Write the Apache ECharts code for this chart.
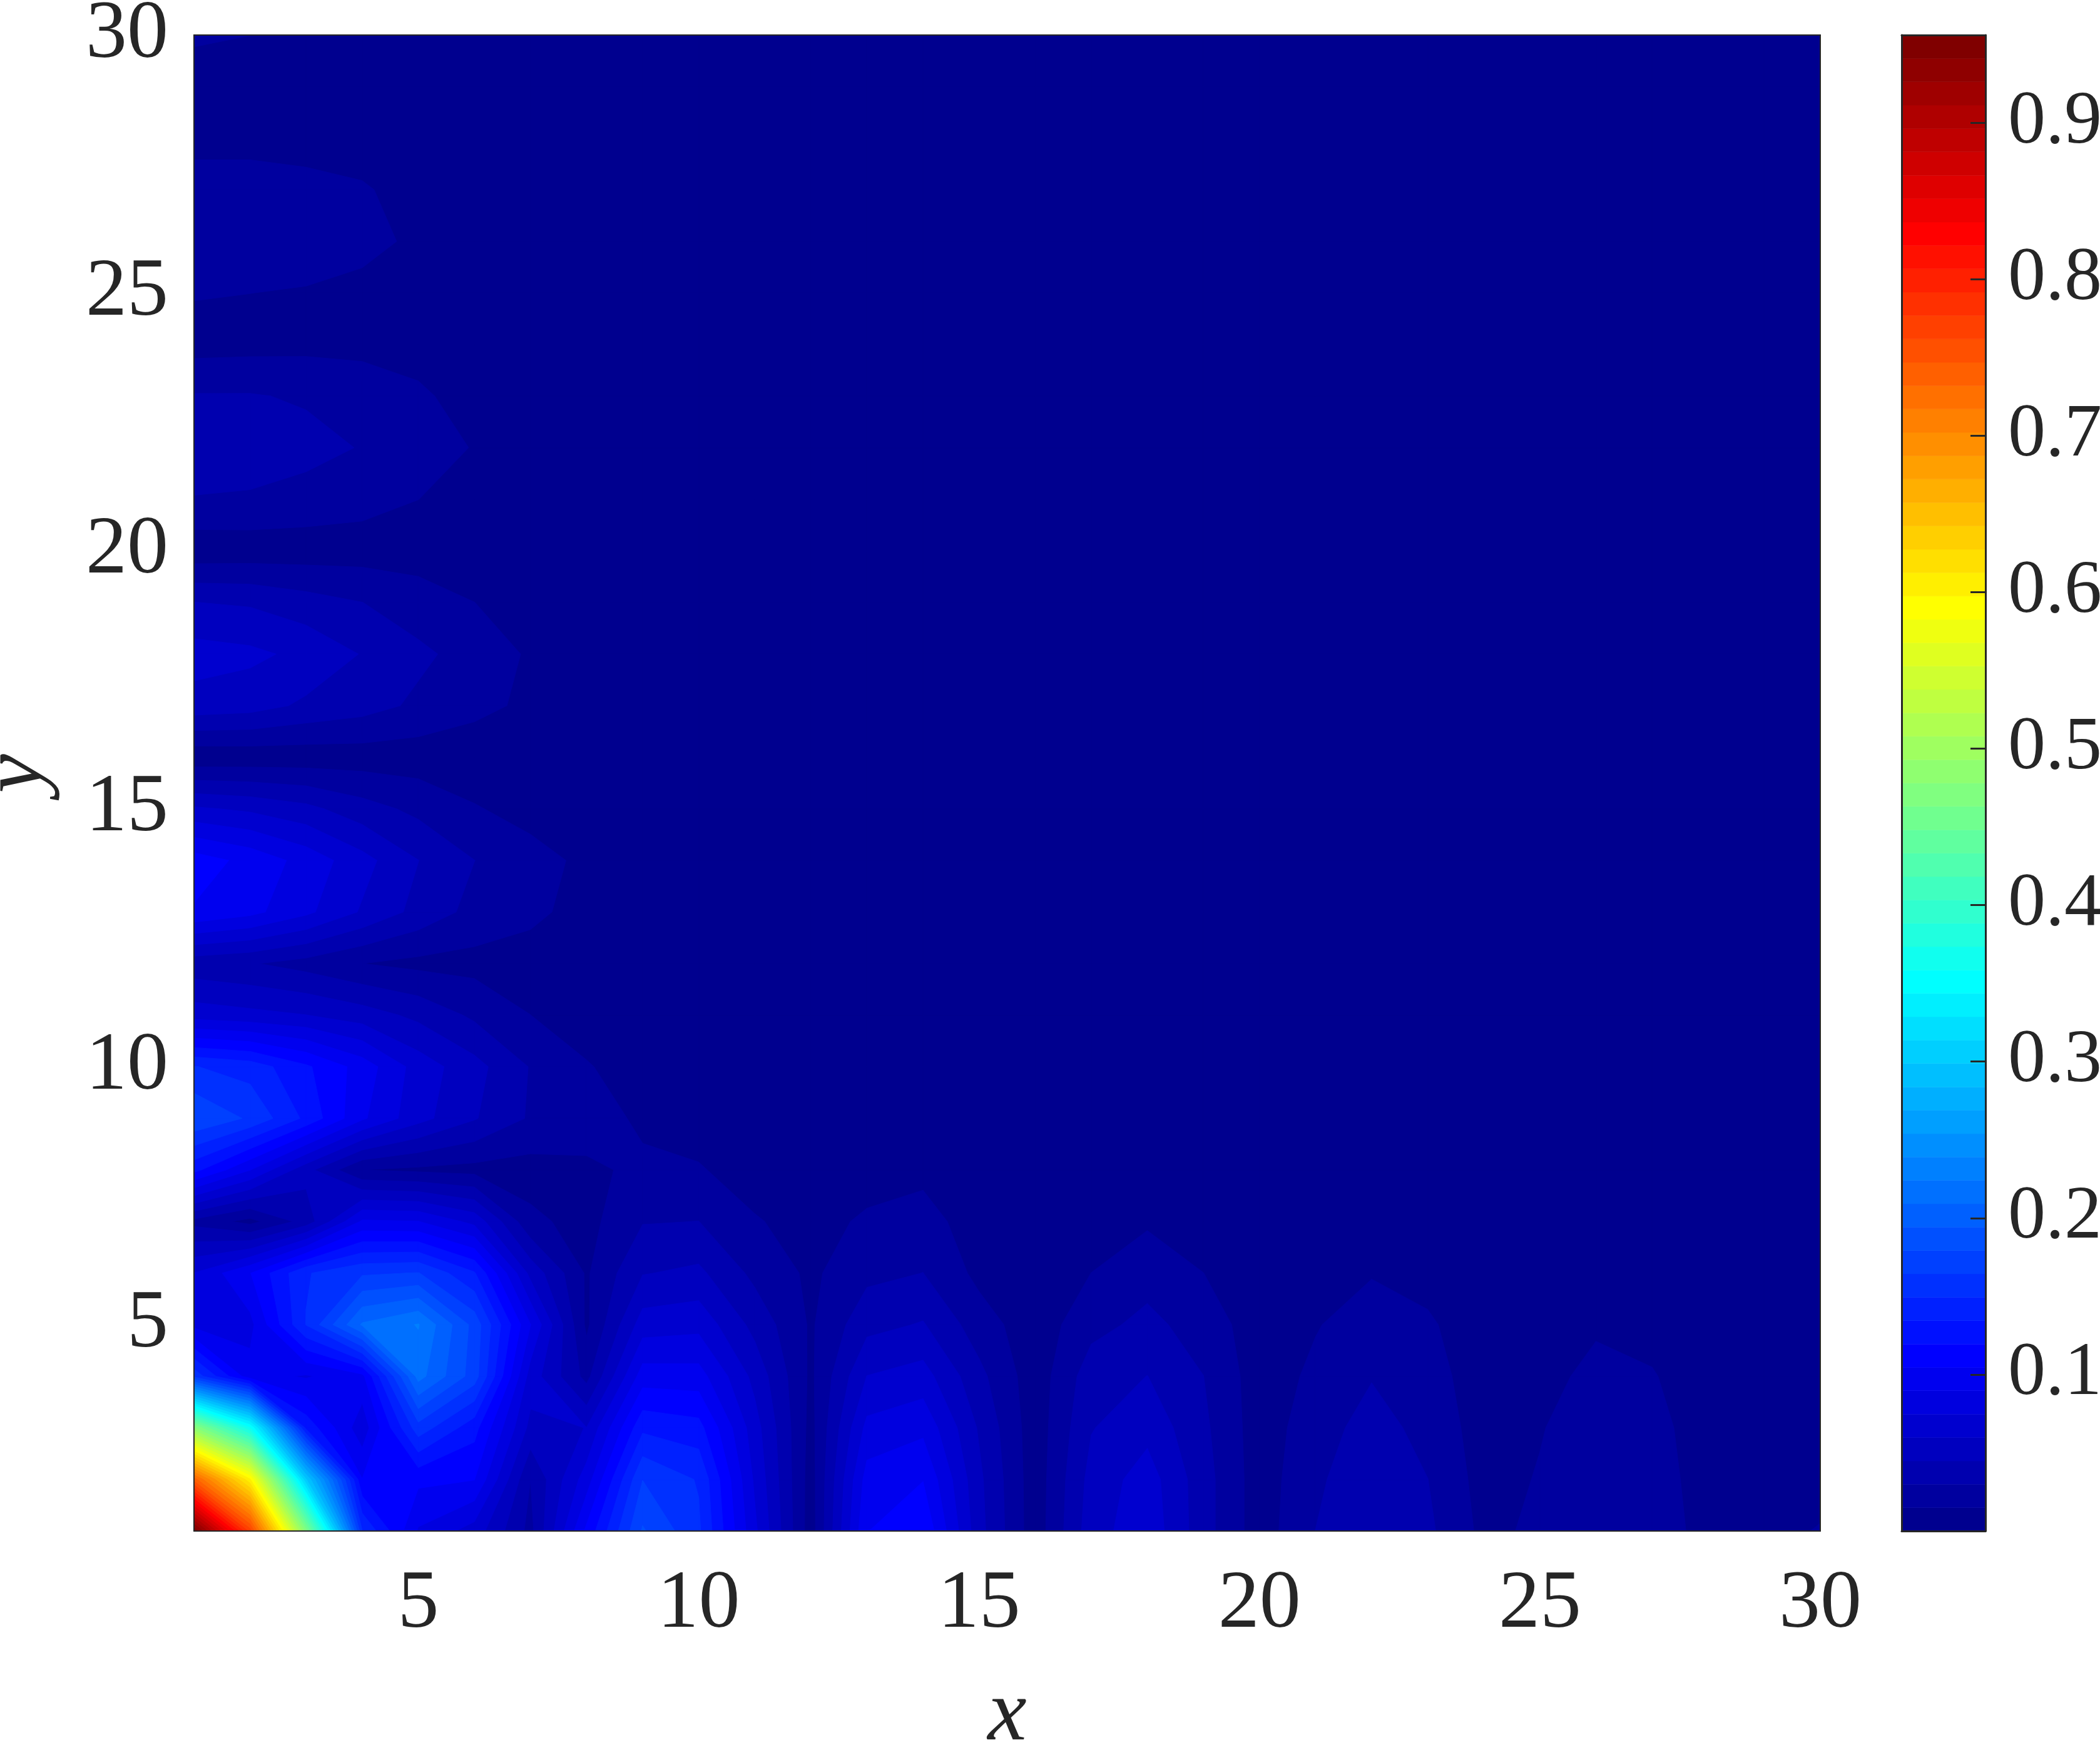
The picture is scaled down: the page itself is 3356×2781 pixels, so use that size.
<!DOCTYPE html>
<html>
<head>
<meta charset="utf-8">
<style>html,body{margin:0;padding:0;background:#fff;overflow:hidden}#c{width:3356px;height:2781px}</style>
<script src="https://cdn.jsdelivr.net/npm/echarts@6/dist/echarts.min.js"></script>
</head>
<body>
<div id="c"></div>
<script>
// Field values in thousandths, one list per y = 1..30, each list x = 1..30
const zY01=[956,770,470,150,88,68,25,108,181,152,78,7,104,118,50,6,53,70,36,7,30,44,33,11,18,27,24,9,10,16];
const zY02=[740,600,300,105,108,105,30,82,164,148,72,8,96,104,48,6,50,67,36,7,27,41,30,9,16,26,22,8,7,9];
const zY03=[480,360,130,80,158,125,55,60,131,125,66,10,79,86,43,6,44,55,33,7,23,36,25,8,14,23,20,7,5,5];
const zY04=[160,95,88,100,215,172,68,25,97,96,55,12,60,66,34,6,38,45,30,7,18,29,21,7,10,19,16,6,5,5];
const zY05=[85,85,150,211,225,174,90,12,67,70,40,13,40,46,22,6,25,34,23,7,14,22,17,6,6,13,10,5,5,5];
const zY06=[75,104,148,162,165,136,55,13,44,48,26,12,26,30,11,6,15,24,15,6,9,14,10,5,5,8,6,5,5,5];
const zY07=[25,10,36,92,90,70,18,10,29,30,16,10,17,21,7,5,9,13,8,5,5,8,5,5,5,5,5,5,5,5];
const zY08=[124,90,50,15,12,10,9,13,17,16,9,7,9,11,6,5,6,8,5,5,5,5,5,5,5,5,5,5,5,5];
const zY09=[178,162,131,92,65,46,28,20,13,9,6,5,6,6,5,5,5,5,5,5,5,5,5,5,5,5,5,5,5,5];
const zY10=[150,143,122,98,68,50,29,16,8,5,5,5,5,5,5,5,5,5,5,5,5,5,5,5,5,5,5,5,5,5];
const zY11=[68,64,60,52,41,27,15,8,5,5,5,5,5,5,5,5,5,5,5,5,5,5,5,5,5,5,5,5,5,5];
const zY12=[35,31,24,15,11,10,9,7,5,5,5,5,5,5,5,5,5,5,5,5,5,5,5,5,5,5,5,5,5,5];
const zY13=[103,94,78,58,40,25,18,10,6,5,5,5,5,5,5,5,5,5,5,5,5,5,5,5,5,5,5,5,5,5];
const zY14=[112,100,84,65,45,30,20,12,7,5,5,5,5,5,5,5,5,5,5,5,5,5,5,5,5,5,5,5,5,5];
const zY15=[62,57,49,36,26,16,10,6,5,5,5,5,5,5,5,5,5,5,5,5,5,5,5,5,5,5,5,5,5,5];
const zY16=[4,5,6,7,7,6,5,5,5,5,5,5,5,5,5,5,5,5,5,5,5,5,5,5,5,5,5,5,5,5];
const zY17=[54,51,42,36,27,19,12,7,5,5,5,5,5,5,5,5,5,5,5,5,5,5,5,5,5,5,5,5,5,5];
const zY18=[66,63,56,44,33,24,13,7,5,5,5,5,5,5,5,5,5,5,5,5,5,5,5,5,5,5,5,5,5,5];
const zY19=[45,43,36,30,22,15,9,6,5,5,5,5,5,5,5,5,5,5,5,5,5,5,5,5,5,5,5,5,5,5];
const zY20=[5,6,7,8,8,7,6,5,5,5,5,5,5,5,5,5,5,5,5,5,5,5,5,5,5,5,5,5,5,5];
const zY21=[29,28,24,20,15,10,7,5,5,5,5,5,5,5,5,5,5,5,5,5,5,5,5,5,5,5,5,5,5,5];
const zY22=[40,38,35,29,23,14,8,5,5,5,5,5,5,5,5,5,5,5,5,5,5,5,5,5,5,5,5,5,5,5];
const zY23=[31,31,28,23,17,10,6,5,5,5,5,5,5,5,5,5,5,5,5,5,5,5,5,5,5,5,5,5,5,5];
const zY24=[9,10,11,11,10,8,6,5,5,5,5,5,5,5,5,5,5,5,5,5,5,5,5,5,5,5,5,5,5,5];
const zY25=[16,15,14,12,10,7,5,5,5,5,5,5,5,5,5,5,5,5,5,5,5,5,5,5,5,5,5,5,5,5];
const zY26=[24,23,21,18,13,8,5,5,5,5,5,5,5,5,5,5,5,5,5,5,5,5,5,5,5,5,5,5,5,5];
const zY27=[19,19,18,16,11,7,5,5,5,5,5,5,5,5,5,5,5,5,5,5,5,5,5,5,5,5,5,5,5,5];
const zY28=[12,12,11,10,8,6,5,5,5,5,5,5,5,5,5,5,5,5,5,5,5,5,5,5,5,5,5,5,5,5];
const zY29=[8,8,7,6,5,5,5,5,5,5,5,5,5,5,5,5,5,5,5,5,5,5,5,5,5,5,5,5,5,5];
const zY30=[17,15,12,9,6,5,5,5,5,5,5,5,5,5,5,5,5,5,5,5,5,5,5,5,5,5,5,5,5,5];
const zRows=[zY01,zY02,zY03,zY04,zY05,zY06,zY07,zY08,zY09,zY10,zY11,zY12,zY13,zY14,zY15,
             zY16,zY17,zY18,zY19,zY20,zY21,zY22,zY23,zY24,zY25,zY26,zY27,zY28,zY29,zY30];

const axisTicks=[5,10,15,20,25,30];
const barTicks=[0.1,0.2,0.3,0.4,0.5,0.6,0.7,0.8,0.9];
const zMax=0.956;
const bandCount=64;

const textColor='#262626';
const fontFamily='"Liberation Serif","DejaVu Serif",serif';
const step=zMax/bandCount;

// MATLAB jet colormap, 64 entries
function jetPart(j){ if(j<1||j>47) return 0; if(j<=16) return j/16; if(j<=31) return 1; return (48-j)/16; }
function jet(i){
  const c=v=>Math.round(v*255);
  return 'rgb('+c(jetPart(i-23))+','+c(jetPart(i-7))+','+c(jetPart(i+9))+')';
}
const bandColor=[]; for(let i=0;i<bandCount;i++) bandColor.push(jet(i));

// one record per grid cell: x, y and the four corner values
const cells=[];
for(let r=0;r<29;r++){ for(let c=0;c<29;c++){
  cells.push([c+1,r+1,zRows[r][c]/1000,zRows[r][c+1]/1000,zRows[r+1][c+1]/1000,zRows[r+1][c]/1000]);
}}

function clipAbove(poly,L){
  const out=[];
  for(let i=0;i<poly.length;i++){
    const a=poly[i], b=poly[(i+1)%poly.length];
    const ai=a[2]>=L, bi=b[2]>=L;
    if(ai) out.push(a);
    if(ai!==bi){
      const t=(L-a[2])/(b[2]-a[2]);
      out.push([a[0]+t*(b[0]-a[0]),a[1]+t*(b[1]-a[1]),L]);
    }
  }
  return out;
}

function renderCell(params,api){
  const x=api.value(0), y=api.value(1);
  const poly=[[x,y,api.value(2)],[x+1,y,api.value(3)],[x+1,y+1,api.value(4)],[x,y+1,api.value(5)]];
  const vals=poly.map(p=>p[2]);
  const lo=Math.min.apply(null,vals), hi=Math.max.apply(null,vals);
  const kLo=Math.min(bandCount-1,Math.floor(lo/step)), kHi=Math.min(bandCount-1,Math.floor(hi/step));
  const children=[];
  for(let k=kLo;k<=kHi;k++){
    const p=k===kLo?poly:clipAbove(poly,k*step);
    if(p.length<3) continue;
    children.push({type:'polygon',z2:k,
      shape:{points:p.map(q=>api.coord([q[0],q[1]]))},
      style:{fill:bandColor[k],stroke:bandColor[k],lineWidth:1}});
  }
  return {type:'group',children:children};
}

const barBands=bandColor.map((c,i)=>[i]);
function renderBand(params,api){
  const i=api.value(0);
  const a=api.coord([0,i*step]), b=api.coord([1,(i+1)*step]);
  return {type:'rect',shape:{x:a[0],y:b[1],width:b[0]-a[0],height:a[1]-b[1]},
    style:{fill:bandColor[i],stroke:bandColor[i],lineWidth:0.6}};
}

const labelStyle={fontFamily:fontFamily,fontSize:132,color:textColor};
const frame={show:true,onZero:false,lineStyle:{color:textColor,width:3}};
const thin={show:true,onZero:false,lineStyle:{color:textColor,width:2}};

const chart=echarts.init(document.getElementById('c'),null,{renderer:'canvas'});
chart.setOption({
  animation:false,
  backgroundColor:'#ffffff',
  grid:[
    {left:310,top:56,width:2599,height:2391,show:true,backgroundColor:bandColor[0],borderWidth:0,outerBoundsMode:'none',containLabel:false},
    {left:3039,top:56,width:134,height:2391,outerBoundsMode:'none',containLabel:false}
  ],
  xAxis:[
    {gridIndex:0,type:'value',min:1,max:30,z:5,
     axisLine:thin,axisTick:{show:false},splitLine:{show:false},
     axisLabel:Object.assign({},labelStyle,{margin:52,customValues:axisTicks}),
     name:'x',nameLocation:'middle',nameGap:226,
     nameTextStyle:{fontFamily:fontFamily,fontSize:140,fontStyle:'italic',color:textColor}},
    {gridIndex:1,type:'value',min:0,max:1,position:'bottom',z:5,
     axisLine:frame,axisTick:{show:false},axisLabel:{show:false},splitLine:{show:false}},
    {gridIndex:1,type:'value',min:0,max:1,position:'top',z:5,
     axisLine:frame,axisTick:{show:false},axisLabel:{show:false},splitLine:{show:false}},
    {gridIndex:0,type:'value',min:1,max:30,position:'top',z:5,
     axisLine:thin,axisTick:{show:false},axisLabel:{show:false},splitLine:{show:false}}
  ],
  yAxis:[
    {gridIndex:0,type:'value',min:1,max:30,z:5,
     axisLine:thin,axisTick:{show:false},splitLine:{show:false},
     axisLabel:Object.assign({},labelStyle,{margin:41,customValues:axisTicks,padding:[0,0,20,0]}),
     name:'y',nameLocation:'middle',nameGap:212,nameRotate:90,
     nameTextStyle:{fontFamily:fontFamily,fontSize:140,fontStyle:'italic',color:textColor,padding:[0,0,0,30]}},
    {gridIndex:1,type:'value',min:0,max:zMax,position:'right',z:5,
     axisLine:frame,splitLine:{show:false},
     axisTick:{show:true,inside:true,length:24,customValues:barTicks,lineStyle:{color:textColor,width:3}},
     axisLabel:Object.assign({},labelStyle,{fontSize:120,margin:36,padding:[14,0,0,0],customValues:barTicks,formatter:v=>v.toFixed(1)})},
    {gridIndex:1,type:'value',min:0,max:zMax,position:'left',z:5,
     axisLine:frame,axisTick:{show:false},axisLabel:{show:false},splitLine:{show:false}},
    {gridIndex:0,type:'value',min:1,max:30,position:'right',z:5,
     axisLine:thin,axisTick:{show:false},axisLabel:{show:false},splitLine:{show:false}}
  ],
  series:[
    {type:'custom',coordinateSystem:'cartesian2d',xAxisIndex:0,yAxisIndex:0,z:2,clip:true,
     progressive:0,silent:true,renderItem:renderCell,
     dimensions:['x','y','a','b','c','d'],encode:{x:0,y:1},data:cells},
    {type:'custom',coordinateSystem:'cartesian2d',xAxisIndex:1,yAxisIndex:1,z:2,clip:true,
     progressive:0,silent:true,renderItem:renderBand,
     encode:{y:0},data:barBands}
  ]
});
</script>
</body>
</html>
